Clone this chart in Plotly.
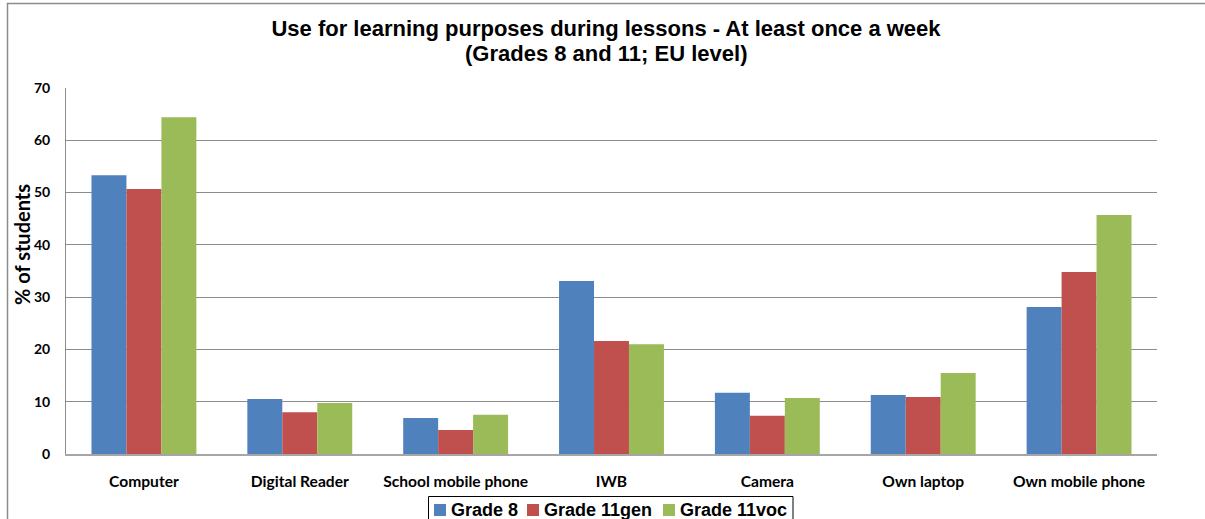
import plotly.graph_objects as go

categories = ["Computer", "Digital Reader", "School mobile phone", "IWB", "Camera", "Own laptop", "Own mobile phone"]
grade8 = [53.3, 10.5, 6.9, 33.1, 11.7, 11.3, 28.1]
grade11gen = [50.7, 8.0, 4.6, 21.6, 7.3, 10.9, 34.8]
grade11voc = [64.4, 9.75, 7.5, 21.0, 10.7, 15.5, 45.7]
series_names = ["Grade 8", "Grade 11gen", "Grade 11voc"]
colors = ["#4F81BD", "#C0504D", "#9BBB59"]
title_line1 = "Use for learning purposes during lessons - At least once a week"
title_line2 = "(Grades 8 and 11; EU level)"

fig = go.Figure()
for name, vals, c in zip(series_names, [grade8, grade11gen, grade11voc], colors):
    fig.add_trace(go.Bar(x=categories, y=vals, name=name, showlegend=False,
                         marker=dict(color=c, line=dict(width=0))))

W, H = 1205, 519
ml, mr, mt, mb = 66, 48, 88, 65
pw, ph = W - ml - mr, H - mt - mb

def px2paper_x(px):
    return (px - ml) / pw

def px2paper_y(py):
    return (H - mb - py) / ph

CAL = "Lato, Carlito, Calibri, sans-serif"
ARI = "Liberation Sans, Arial, sans-serif"

shapes = [
    dict(type="rect", xref="paper", yref="paper",
         x0=px2paper_x(7.5), x1=px2paper_x(1215), y0=px2paper_y(540), y1=px2paper_y(3.5),
         line=dict(color="#8c8c8c", width=1.5), fillcolor="rgba(0,0,0,0)", layer="below"),
    # legend box
    dict(type="rect", xref="paper", yref="paper",
         x0=px2paper_x(428.5), x1=px2paper_x(793), y0=px2paper_y(540), y1=px2paper_y(496.5),
         line=dict(color="black", width=1), fillcolor="white", layer="above"),
]
annotations = [
    dict(text="% of students", xref="paper", yref="paper",
         x=px2paper_x(22), y=px2paper_y(245), xanchor="center", yanchor="middle",
         textangle=-90, showarrow=False,
         font=dict(family=CAL, size=20, color="black", weight="bold")),
    dict(text=title_line2, xref="paper", yref="paper",
         x=px2paper_x(606), y=px2paper_y(54), xanchor="center", yanchor="middle",
         showarrow=False,
         font=dict(family=ARI, size=22, color="black", weight="bold")),
]
leg_sq_x = [434, 527, 663]
for name, c, sx in zip(series_names, colors, leg_sq_x):
    shapes.append(dict(type="rect", xref="paper", yref="paper",
                       x0=px2paper_x(sx), x1=px2paper_x(sx + 12),
                       y0=px2paper_y(516), y1=px2paper_y(504),
                       line=dict(width=0), fillcolor=c, layer="above"))
    annotations.append(dict(text=name, xref="paper", yref="paper",
                            x=px2paper_x(sx + 15), y=px2paper_y(510),
                            xanchor="left", yanchor="middle", showarrow=False,
                            font=dict(family=ARI, size=18, color="black", weight="bold")))

fig.update_layout(
    width=W, height=H,
    margin=dict(l=ml, r=mr, t=mt, b=mb, autoexpand=False),
    paper_bgcolor="white", plot_bgcolor="white",
    barmode="group", bargap=0.327, bargroupgap=0,
    title=dict(
        text=title_line1,
        x=606 / W, xanchor="center", xref="container",
        y=1 - 28 / H, yanchor="middle", yref="container",
        font=dict(family=ARI, size=22, color="black", weight="bold"),
    ),
    font=dict(family=ARI, color="black"),
    yaxis=dict(
        range=[0, 70], dtick=10, showgrid=True, gridcolor="#8c8c8c", gridwidth=1,
        showline=True, linecolor="#8c8c8c", linewidth=1, zeroline=False,
        ticks="", ticklabelstandoff=12, automargin=False,
        tickfont=dict(family=CAL, size=14, color="black", weight="bold"),
    ),
    xaxis=dict(
        showline=True, linecolor="#a6a6a6", linewidth=2, ticks="",
        ticklabelstandoff=12, automargin=False,
        tickfont=dict(family=CAL, size=15.6, color="black", weight="bold"),
    ),
    showlegend=False,
    shapes=shapes,
    annotations=annotations,
)

fig.write_html("out.html", config={"displayModeBar": False},
               post_script="document.body.style.margin='0px';document.body.style.padding='0px';")
